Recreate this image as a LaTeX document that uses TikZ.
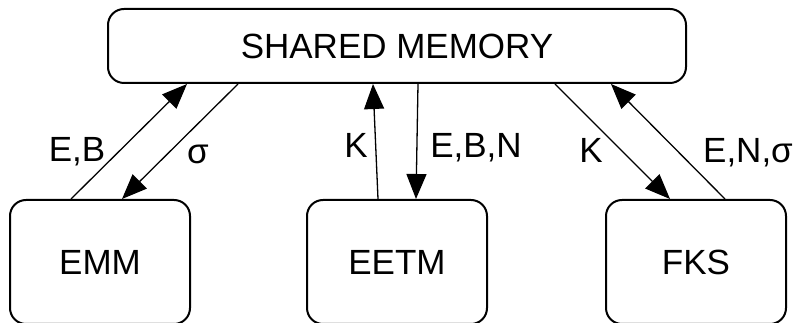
\documentclass[tikz,border=0pt]{standalone}
\usepackage{fontspec}
\setmainfont{Liberation Sans}
\usetikzlibrary{arrows.meta}
\usetikzlibrary{positioning}

\begin{document}
\begin{tikzpicture}[x=1pt, y=1pt,
box/.style={draw, rounded corners=16pt, line width=2pt, minimum width=180pt,
minimum height=124pt, font=\fontsize{35}{40}\selectfont},
lbl/.style={anchor=base, inner sep=0pt, font=\fontsize{35}{40}\selectfont},
flow/.style={line width=1.3pt, -{Triangle[length=25pt, width=20pt]}}]
\useasboundingbox (0,0) rectangle (798,323);
\node[box, minimum width=578pt, minimum height=74pt] (mem) at (397,277) {SHARED MEMORY};
\node[box, below = 115pt of mem] (eetm) {EETM};
\node[box, left = 115pt of eetm] (emm) {EMM};
\node[box, right = 117pt of eetm] (fks) {FKS};
\foreach \a/\sa/\b/\sb in {emm.north/-29/mem.south/-210, mem.south/-159/emm.north/22,
eetm.north/-19/mem.south/-24, mem.south/21/eetm.north/19,
mem.south/158/fks.north/-26, fks.north/29/mem.south/214}{
\draw[flow] ([xshift=\sa pt]\a) -- ([xshift=\sb pt]\b);}
\foreach \n/\x/\y/\t in {eb/77/161/{E,B}, sig/198/159/σ, k1/356/165/K,
ebn/476/165/{E,B,N}, k2/591/160/K, ens/748/160/{E,N,σ}}{
\node[lbl] (\n) at (\x,\y) {\t};}
\end{tikzpicture}
\end{document}
